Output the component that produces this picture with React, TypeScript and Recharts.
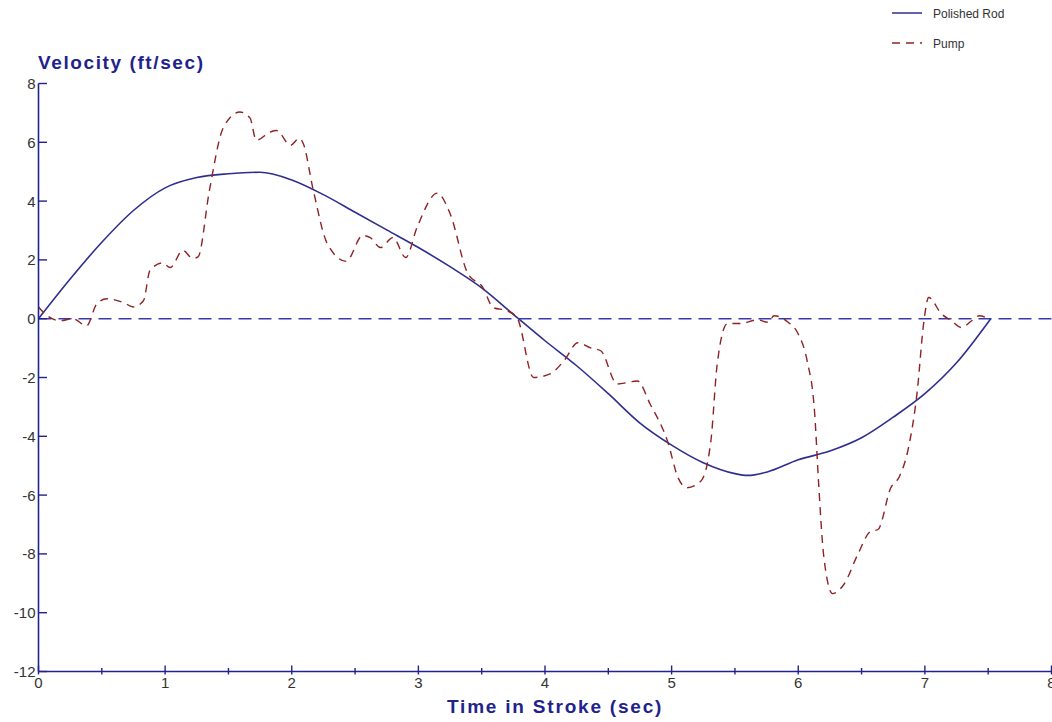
import React from "react";
import { LineChart, Line, XAxis, YAxis, ReferenceLine } from "recharts";

const rodTime = [0, 0.25, 0.5, 0.75, 1.0, 1.25, 1.5, 1.75, 2.0, 2.25, 2.5, 2.75, 3.0, 3.25, 3.5, 3.75, 4.0, 4.25, 4.5, 4.75, 5.0, 5.25, 5.5, 5.6, 5.75, 6.0, 6.25, 6.5, 6.75, 7.0, 7.25, 7.52];
const rodVelocity = [0, 1.35, 2.6, 3.68, 4.45, 4.8, 4.93, 4.98, 4.72, 4.22, 3.62, 3.02, 2.42, 1.77, 1.05, 0.15, -0.75, -1.6, -2.55, -3.55, -4.3, -4.9, -5.27, -5.33, -5.22, -4.8, -4.5, -4.05, -3.35, -2.55, -1.5, 0];

const pumpTime = [0, 0.05, 0.17, 0.27, 0.38, 0.46, 0.54, 0.67, 0.75, 0.83, 0.88, 0.98, 1.04, 1.14, 1.22, 1.26, 1.35, 1.46, 1.59, 1.67, 1.72, 1.83, 1.88, 1.99, 2.06, 2.09, 2.17, 2.28, 2.43, 2.56, 2.62, 2.7, 2.8, 2.9, 2.99, 3.15, 3.25, 3.39, 3.51, 3.59, 3.7, 3.78, 3.91, 4.04, 4.15, 4.26, 4.36, 4.44, 4.57, 4.73, 4.83, 4.97, 5.05, 5.12, 5.23, 5.31, 5.36, 5.44, 5.55, 5.68, 5.76, 5.81, 5.92, 6.0, 6.07, 6.13, 6.16, 6.2, 6.27, 6.36, 6.47, 6.57, 6.63, 6.73, 6.8, 6.87, 6.94, 6.99, 7.03, 7.13, 7.21, 7.29, 7.37, 7.43, 7.5];
const pumpVelocity = [0.4, 0.17, -0.07, 0, -0.24, 0.5, 0.68, 0.55, 0.4, 0.62, 1.64, 1.9, 1.74, 2.32, 2.05, 2.1, 4.37, 6.5, 7.03, 6.83, 6.07, 6.35, 6.4, 5.9, 6.14, 5.97, 4.37, 2.56, 1.95, 2.83, 2.76, 2.42, 2.76, 2.08, 3.11, 4.27, 3.58, 1.54, 1.06, 0.38, 0.27, 0.03, -2.0, -1.88, -1.43, -0.82, -0.99, -1.09, -2.22, -2.12, -2.9, -4.2, -5.4, -5.75, -5.53, -4.16, -1.54, -0.17, -0.16, -0.04, -0.12, 0.1, -0.12, -0.52, -1.43, -3.24, -5.53, -8.02, -9.35, -9.04, -8.02, -7.24, -7.17, -5.76, -5.36, -4.4, -2.46, -0.17, 0.72, 0.17, -0.07, -0.3, -0.07, 0.1, 0];

const xTicks = [0, 0.5, 1, 1.5, 2, 2.5, 3, 3.5, 4, 4.5, 5, 5.5, 6, 6.5, 7, 7.5, 8];
const yTicks = [-12, -10, -8, -6, -4, -2, 0, 2, 4, 6, 8];

const seriesNames = ["Polished Rod", "Pump"];

const rodData = rodTime.map((t, i) => ({ t, v: rodVelocity[i] }));
const pumpData = pumpTime.map((t, i) => ({ t, v: pumpVelocity[i] }));

const AXIS = "#22228c";
const ROD = "#2e2e90";
const PUMP = "#8e2222";
const ZERO = "#3a3ab0";
const LABEL = "#333333";
const FONT = "'Liberation Sans', Arial, sans-serif";

const XTick = (props: any) => {
  const { x, y, payload } = props;
  const v = payload.value;
  const major = Number.isInteger(v);
  return (
    <g>
      <line x1={x} x2={x} y1={major ? y - 6 : y - 3.5} y2={y + 3} stroke={AXIS} strokeWidth={1.4} />
      {major && (
        <text x={x} y={y + 16} textAnchor="middle" fontSize={15} fontFamily={FONT} fill={LABEL}>
          {v}
        </text>
      )}
    </g>
  );
};

const YTick = (props: any) => {
  const { x, y, payload } = props;
  return (
    <g>
      <line x1={x} x2={x + 8.5} y1={y} y2={y} stroke={AXIS} strokeWidth={1.4} />
      <text x={x - 3} y={y + 5.5} textAnchor="end" fontSize={15} fontFamily={FONT} fill={LABEL}>
        {payload.value}
      </text>
    </g>
  );
};

export default function App() {
  return (
    <div style={{ position: "absolute", left: 0, top: 0, width: 1052, height: 722, background: "#fff" }}>
      <LineChart width={1052} height={722} margin={{ top: 83.5, right: 0.5, bottom: 0, left: 0 }}>
        <XAxis
          type="number"
          dataKey="t"
          domain={[0, 8]}
          ticks={xTicks}
          interval={0}
          allowDataOverflow
          tickSize={0}
          tickMargin={0}
          tick={<XTick />}
          tickLine={false}
          height={50.5}
          axisLine={{ stroke: AXIS, strokeWidth: 1.6 }}
        />
        <YAxis
          type="number"
          dataKey="v"
          domain={[-12, 8]}
          ticks={yTicks}
          interval={0}
          allowDataOverflow
          tickSize={0}
          tickMargin={0}
          tick={<YTick />}
          tickLine={false}
          width={38.5}
          axisLine={{ stroke: AXIS, strokeWidth: 1.6 }}
        />
        <ReferenceLine y={0} stroke={ZERO} strokeWidth={1.6} strokeDasharray="13 7" />
        <Line
          data={rodData}
          dataKey="v"
          name={seriesNames[0]}
          type="monotone"
          stroke={ROD}
          strokeWidth={1.6}
          dot={false}
          isAnimationActive={false}
        />
        <Line
          data={pumpData}
          dataKey="v"
          name={seriesNames[1]}
          type="monotone"
          stroke={PUMP}
          strokeWidth={1.4}
          strokeDasharray="8 6"
          dot={false}
          isAnimationActive={false}
        />
      </LineChart>
      <svg width={170} height={60} style={{ position: "absolute", left: 880, top: 0 }}>
        <line x1={12} x2={42} y1={13} y2={13} stroke={ROD} strokeWidth={1.5} />
        <text x={53} y={18} fontSize={12} fontFamily={FONT} fill={LABEL}>{seriesNames[0]}</text>
        <line x1={12} x2={42} y1={43} y2={43} stroke={PUMP} strokeWidth={1.5} strokeDasharray="8 6" />
        <text x={53} y={48} fontSize={12} fontFamily={FONT} fill={LABEL}>{seriesNames[1]}</text>
      </svg>
      <div
        style={{
          position: "absolute",
          left: 38,
          top: 52,
          fontFamily: FONT,
          fontWeight: "bold",
          fontSize: 19,
          letterSpacing: 1.6,
          color: AXIS,
          lineHeight: "22px",
          whiteSpace: "nowrap",
        }}
      >
        Velocity (ft/sec)
      </div>
      <div
        style={{
          position: "absolute",
          left: 447,
          top: 696,
          fontFamily: FONT,
          fontWeight: "bold",
          fontSize: 19,
          letterSpacing: 1.8,
          color: AXIS,
          lineHeight: "22px",
          whiteSpace: "nowrap",
        }}
      >
        Time in Stroke (sec)
      </div>
    </div>
  );
}
